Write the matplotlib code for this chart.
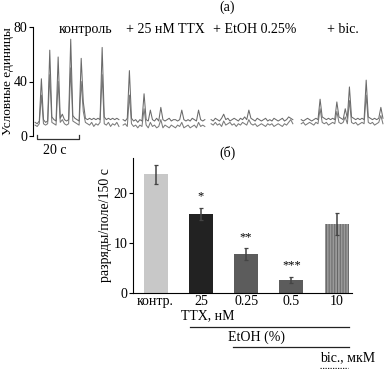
import numpy as np
import matplotlib
matplotlib.use('Agg')
import matplotlib.pyplot as plt

plt.rcParams['font.family'] = ['Liberation Serif', 'DejaVu Serif']
plt.rcParams['hatch.linewidth'] = 0.7

# (а) calcium traces, two overlaid recordings, 1 s sampling, arbitrary units
ctrl_start = 1
ctrl_a = [10, 9, 11, 42, 12, 10, 11, 63, 14, 12, 11, 58, 13, 16, 12, 11, 12, 71, 15, 13,
          12, 11, 57, 25, 13, 12, 13, 12, 13, 12, 13, 12, 65, 14, 12, 13, 12, 13, 12, 13, 12]
ctrl_b = [8, 7, 9, 30, 9, 8, 9, 45, 10, 9, 8, 40, 10, 12, 9, 8, 9, 50, 11, 10,
          9, 8, 40, 18, 10, 9, 8, 10, 7, 9, 8, 10, 45, 9, 8, 10, 7, 9, 8, 10, 7]

ttx_start = 43
ttx_a = [12, 11, 13, 48, 13, 11, 12, 10, 12, 11, 31, 12, 11, 19, 12, 11, 13, 11, 21, 12,
         11, 12, 13, 11, 12, 12, 11, 12, 19, 12, 11, 12, 11, 13, 12, 11, 19, 12, 11, 12]
ttx_b = [8, 9, 7, 30, 9, 7, 8, 6, 8, 7, 20, 8, 6, 10, 7, 8, 6, 7, 12, 6,
         8, 7, 6, 8, 7, 6, 8, 7, 10, 6, 7, 8, 6, 7, 8, 6, 10, 7, 8, 7]

etoh_start = 85
etoh_a = [12, 11, 13, 12, 11, 13, 16, 12, 13, 11, 12, 13, 12, 11, 13, 12, 14, 12, 19, 13,
          12, 11, 13, 12, 11, 12, 13, 11, 12, 11, 13, 12, 11, 12, 13, 11, 12, 14, 13, 12]
etoh_b = [9, 8, 10, 8, 9, 7, 11, 8, 9, 10, 8, 9, 7, 9, 8, 10, 9, 8, 12, 9,
          8, 9, 7, 8, 9, 8, 7, 9, 8, 9, 7, 8, 9, 8, 7, 9, 8, 10, 12, 9]

bic_start = 128
bic_a = [12, 11, 12, 13, 12, 11, 12, 13, 12, 27, 14, 13, 12, 13, 12, 13, 12, 25, 14, 13,
         12, 20, 13, 36, 14, 13, 12, 13, 12, 13, 12, 41, 14, 13, 12, 13, 12, 13, 21, 13]
bic_b = [9, 10, 8, 9, 10, 9, 8, 10, 9, 20, 10, 9, 10, 8, 9, 10, 9, 18, 10, 9,
         10, 14, 9, 26, 10, 9, 10, 8, 9, 10, 9, 30, 10, 9, 10, 8, 9, 10, 15, 9]

trace_labels = ['контроль', '+ 25 нМ TTX', '+ EtOH 0.25%', '+ bic.']

# (б) bursts per field per 150 s
bar_labels = ['контр.', '25', '0.25', '0.5', '10']
bar_means = [23.8, 15.8, 7.7, 2.6, 13.8]
bar_errs = [1.9, 1.2, 1.2, 0.55, 2.2]
bar_stars = ['', '*', '**', '***', '']
bar_colors = ['#c8c8c8', '#222222', '#5c5c5c', '#5c5c5c', '#9a9a9a']

fig = plt.figure(figsize=(3.84, 3.69), dpi=100)

# ---- panel (а)
ax1 = fig.add_axes([33 / 384, 1 - 136 / 369, 351 / 384, 109 / 369])
segments = [(ctrl_start, ctrl_a, ctrl_b), (ttx_start, ttx_a, ttx_b),
            (etoh_start, etoh_a, etoh_b), (bic_start, bic_a, bic_b)]
for start, a, b in segments:
    t = np.arange(start, start + len(a))
    ax1.plot(t, b, color='#7a7a7a', lw=0.75)
    ax1.plot(t, a, color='#6a6a6a', lw=0.75)

ax1.set_xlim(0, 167.5)
ax1.set_ylim(0, 80)
ax1.set_yticks([0, 40, 80])
ax1.tick_params(axis='y', direction='out', length=3, width=0.8, labelsize=10, pad=1)
ax1.set_xticks([])
for s in ['top', 'right', 'bottom']:
    ax1.spines[s].set_visible(False)
ax1.spines['left'].set_linewidth(0.8)
ax1.set_ylabel('Условные единицы', fontsize=9.5, labelpad=0)

# 20 s scale bar
ax1.plot([2, 2, 22, 22], [0.5, -2.3, -2.3, 0.5], color='#333333', lw=0.9, clip_on=False)
ax1.text(10.5, -10.5, '20 с', ha='center', va='center', fontsize=10)

label_x = [25, 63, 106, 148]
for x, lab in zip(label_x, trace_labels):
    ax1.text(x, 78.5, lab, ha='center', va='center', fontsize=10)

fig.text(227 / 384, 1 - 7.5 / 369, '(а)', ha='center', va='center', fontsize=10)
fig.text(227 / 384, 1 - 153 / 369, '(б)', ha='center', va='center', fontsize=10)

# ---- panel (б)
ax2 = fig.add_axes([133 / 384, 1 - 292.7 / 369, 219 / 384, 134.7 / 369])
x = np.arange(len(bar_means))
bars = ax2.bar(x, bar_means, width=0.53, color=bar_colors, linewidth=0)
bars[4].set_hatch('||||||')
bars[4].set_edgecolor('#666666')
ax2.errorbar(x, bar_means, yerr=bar_errs, fmt='none', ecolor='#444444',
             elinewidth=1.1, capsize=1.5, capthick=0.9)
for xi, m, e, s in zip(x, bar_means, bar_errs, bar_stars):
    if s:
        ax2.text(xi, m + e + 2.3, s, ha='center', va='center', fontsize=9)

ax2.set_xlim(-0.5, 4.34)
ax2.set_ylim(0, 27.1)
ax2.set_yticks([0, 10, 20])
ax2.set_xticks(x)
ax2.set_xticklabels(bar_labels)
ax2.tick_params(axis='x', length=0, labelsize=10, pad=2)
ax2.tick_params(axis='y', direction='out', length=3, width=0.8, labelsize=10, pad=1)
for s in ['top', 'right']:
    ax2.spines[s].set_visible(False)
ax2.spines['left'].set_linewidth(0.8)
ax2.spines['bottom'].set_linewidth(0.8)
ax2.set_ylabel('разряды/поле/150 с', fontsize=10, labelpad=1)

# treatment brackets under the axis
ax2.text(1.16, -4.7, 'TTX, нМ', ha='center', va='center', fontsize=10)
ax2.plot([0.76, 4.28], [-6.85, -6.85], color='#222222', lw=0.9, clip_on=False)
ax2.text(2.24, -8.9, 'EtOH (%)', ha='center', va='center', fontsize=10)
ax2.plot([1.71, 4.28], [-10.9, -10.9], color='#222222', lw=0.9, clip_on=False)
ax2.text(3.63, -13.1, 'bic., мкМ', ha='left', va='center', fontsize=10)
ax2.plot([3.64, 4.25], [-15.2, -15.2], color='#222222', lw=0.9, ls=(0, (1, 1)), clip_on=False)

fig.savefig('out.png', dpi=100)
